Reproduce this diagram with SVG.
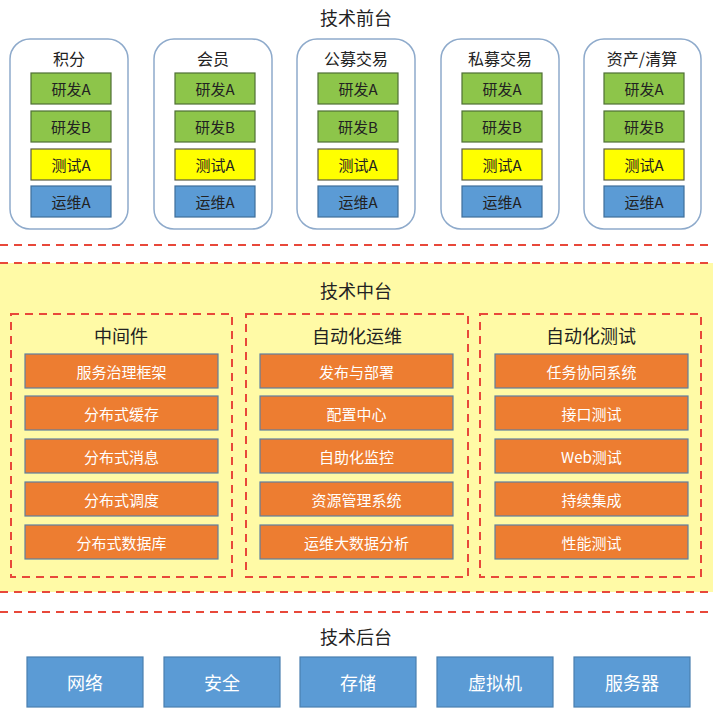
<svg xmlns="http://www.w3.org/2000/svg" width="713" height="714" viewBox="0 0 713 714">
<style>
text{font-family:"Noto Sans CJK SC","Liberation Sans",sans-serif;text-anchor:middle;dominant-baseline:central}
.card{fill:#fff;stroke:#8eaacb;stroke-width:1.5}
.ct{font-size:16px;fill:#222}
.g{fill:#8dc54a;stroke:#4f6f35;stroke-width:1.2}
.y{fill:#ffff00;stroke:#5a5a40;stroke-width:1.2}
.b{fill:#5b9bd5;stroke:#3f6e9a;stroke-width:1.2}
.it{font-size:15px;fill:#222}
.o{fill:#ed7d31;stroke:#5f7f9f;stroke-width:1.2}
.ot{font-size:15px;fill:#fff}
.dash{fill:none;stroke:#e8483a;stroke-width:2;stroke-dasharray:8 6}
.h{font-size:18px;fill:#222}
.bb{fill:#5b9bd5;stroke:#4a7fb0;stroke-width:1.2}
.bt{font-size:18px;fill:#fff}
</style>
<rect width="713" height="714" fill="#fff"/>
<rect x="-5" y="263" width="723" height="329" fill="#fffaa6"/>
<line class="dash" x1="0" y1="245" x2="713" y2="245"/>
<line class="dash" x1="0" y1="263" x2="713" y2="263"/>
<line class="dash" x1="0" y1="592" x2="713" y2="592"/>
<line class="dash" x1="0" y1="612" x2="713" y2="612"/>

<text class="h" x="356" y="17">技术前台</text>
<g id="jifen">
<rect class="card" x="10" y="39" width="118" height="190" rx="20"/>
<text class="ct" x="69" y="58">积分</text>
<rect class="g" x="31" y="73" width="80" height="31"/><text class="it" x="71" y="88.5">研发A</text>
<rect class="g" x="31" y="111" width="80" height="31"/><text class="it" x="71" y="126.5">研发B</text>
<rect class="y" x="31" y="149" width="80" height="31"/><text class="it" x="71" y="164.5">测试A</text>
<rect class="b" x="31" y="186" width="80" height="31"/><text class="it" x="71" y="201.5">运维A</text>
</g>
<g id="huiyuan">
<rect class="card" x="154" y="39" width="118" height="190" rx="20"/>
<text class="ct" x="213" y="58">会员</text>
<rect class="g" x="175" y="73" width="80" height="31"/><text class="it" x="215" y="88.5">研发A</text>
<rect class="g" x="175" y="111" width="80" height="31"/><text class="it" x="215" y="126.5">研发B</text>
<rect class="y" x="175" y="149" width="80" height="31"/><text class="it" x="215" y="164.5">测试A</text>
<rect class="b" x="175" y="186" width="80" height="31"/><text class="it" x="215" y="201.5">运维A</text>
</g>
<g id="gongmu">
<rect class="card" x="297" y="39" width="118" height="190" rx="20"/>
<text class="ct" x="356" y="58">公募交易</text>
<rect class="g" x="318" y="73" width="80" height="31"/><text class="it" x="358" y="88.5">研发A</text>
<rect class="g" x="318" y="111" width="80" height="31"/><text class="it" x="358" y="126.5">研发B</text>
<rect class="y" x="318" y="149" width="80" height="31"/><text class="it" x="358" y="164.5">测试A</text>
<rect class="b" x="318" y="186" width="80" height="31"/><text class="it" x="358" y="201.5">运维A</text>
</g>
<g id="simu">
<rect class="card" x="441" y="39" width="118" height="190" rx="20"/>
<text class="ct" x="500" y="58">私募交易</text>
<rect class="g" x="462" y="73" width="80" height="31"/><text class="it" x="502" y="88.5">研发A</text>
<rect class="g" x="462" y="111" width="80" height="31"/><text class="it" x="502" y="126.5">研发B</text>
<rect class="y" x="462" y="149" width="80" height="31"/><text class="it" x="502" y="164.5">测试A</text>
<rect class="b" x="462" y="186" width="80" height="31"/><text class="it" x="502" y="201.5">运维A</text>
</g>
<g id="zichan">
<rect class="card" x="584" y="39" width="117" height="190" rx="20"/>
<text class="ct" x="642" y="58">资产/清算</text>
<rect class="g" x="604" y="73" width="80" height="31"/><text class="it" x="644" y="88.5">研发A</text>
<rect class="g" x="604" y="111" width="80" height="31"/><text class="it" x="644" y="126.5">研发B</text>
<rect class="y" x="604" y="149" width="80" height="31"/><text class="it" x="644" y="164.5">测试A</text>
<rect class="b" x="604" y="186" width="80" height="31"/><text class="it" x="644" y="201.5">运维A</text>
</g>

<text class="h" x="356" y="290">技术中台</text>
<g id="middleware">
<rect class="dash" x="11" y="314" width="221" height="263"/>
<text class="h" x="121" y="335">中间件</text>
<rect class="o" x="25" y="354" width="193" height="34"/><text class="ot" x="121.5" y="371">服务治理框架</text>
<rect class="o" x="25" y="396" width="193" height="34"/><text class="ot" x="121.5" y="413">分布式缓存</text>
<rect class="o" x="25" y="439" width="193" height="34"/><text class="ot" x="121.5" y="456">分布式消息</text>
<rect class="o" x="25" y="482" width="193" height="34"/><text class="ot" x="121.5" y="499">分布式调度</text>
<rect class="o" x="25" y="525" width="193" height="34"/><text class="ot" x="121.5" y="542">分布式数据库</text>
</g>
<g id="autoops">
<rect class="dash" x="246" y="314" width="222" height="263"/>
<text class="h" x="357" y="335">自动化运维</text>
<rect class="o" x="260" y="354" width="193" height="34"/><text class="ot" x="356.5" y="371">发布与部署</text>
<rect class="o" x="260" y="396" width="193" height="34"/><text class="ot" x="356.5" y="413">配置中心</text>
<rect class="o" x="260" y="439" width="193" height="34"/><text class="ot" x="356.5" y="456">自助化监控</text>
<rect class="o" x="260" y="482" width="193" height="34"/><text class="ot" x="356.5" y="499">资源管理系统</text>
<rect class="o" x="260" y="525" width="193" height="34"/><text class="ot" x="356.5" y="542">运维大数据分析</text>
</g>
<g id="autotest">
<rect class="dash" x="480" y="314" width="221" height="263"/>
<text class="h" x="591" y="335">自动化测试</text>
<rect class="o" x="495" y="354" width="193" height="34"/><text class="ot" x="591.5" y="371">任务协同系统</text>
<rect class="o" x="495" y="396" width="193" height="34"/><text class="ot" x="591.5" y="413">接口测试</text>
<rect class="o" x="495" y="439" width="193" height="34"/><text class="ot" x="591.5" y="456">Web测试</text>
<rect class="o" x="495" y="482" width="193" height="34"/><text class="ot" x="591.5" y="499">持续集成</text>
<rect class="o" x="495" y="525" width="193" height="34"/><text class="ot" x="591.5" y="542">性能测试</text>
</g>

<text class="h" x="356" y="636">技术后台</text>
<g id="net"><rect class="bb" x="27" y="657" width="116" height="50"/><text class="bt" x="85" y="682">网络</text></g>
<g id="sec"><rect class="bb" x="164" y="657" width="116" height="50"/><text class="bt" x="222" y="682">安全</text></g>
<g id="store"><rect class="bb" x="300" y="657" width="116" height="50"/><text class="bt" x="358" y="682">存储</text></g>
<g id="vm"><rect class="bb" x="437" y="657" width="116" height="50"/><text class="bt" x="495" y="682">虚拟机</text></g>
<g id="server"><rect class="bb" x="574" y="657" width="116" height="50"/><text class="bt" x="632" y="682">服务器</text></g>
</svg>
